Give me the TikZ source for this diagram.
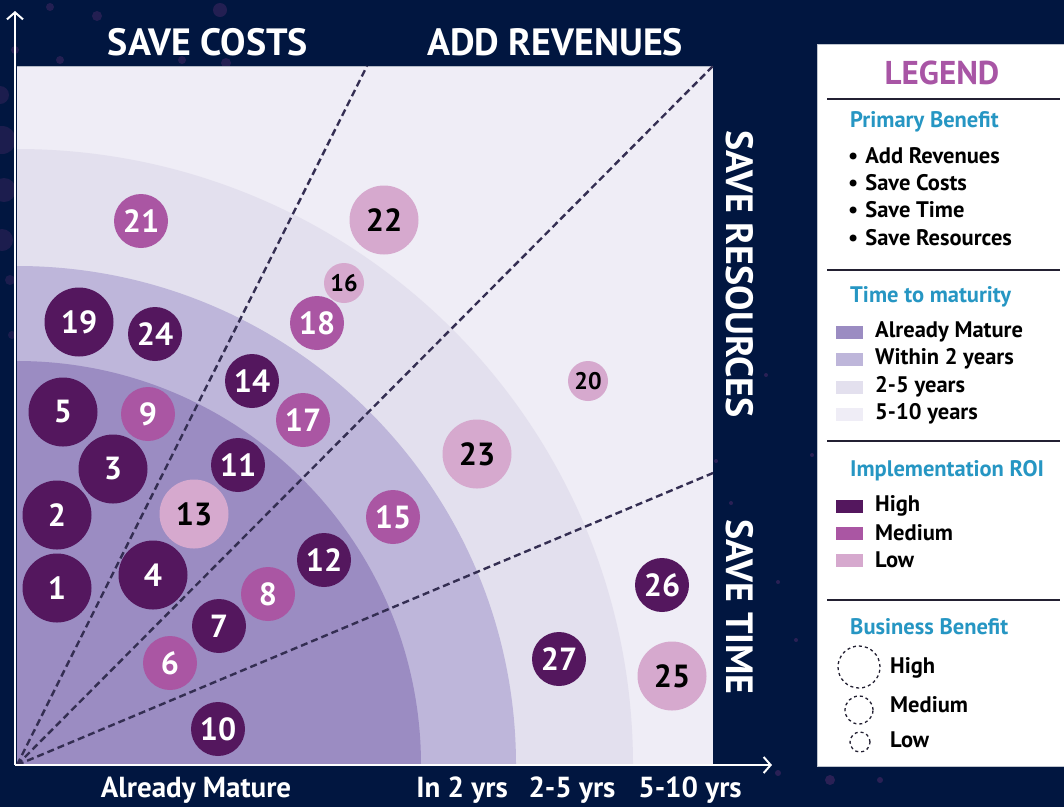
\documentclass[tikz,border=0pt]{standalone}
\usepackage{fontspec}
\setmainfont{PT Sans}
\usetikzlibrary{arrows.meta}

\definecolor{navy}{RGB}{1,22,64}
\definecolor{speck}{RGB}{70,40,100}
\definecolor{mature}{RGB}{155,140,194}
\definecolor{within2}{RGB}{190,182,218}
\definecolor{yrs25}{RGB}{227,224,238}
\definecolor{yrs510}{RGB}{239,237,246}
\definecolor{roiHigh}{RGB}{84,23,94}
\definecolor{roiMed}{RGB}{170,86,163}
\definecolor{roiLow}{RGB}{214,169,206}
\definecolor{legendPurple}{RGB}{168,85,165}
\definecolor{headBlue}{RGB}{38,150,195}
\definecolor{dashGrey}{RGB}{52,46,82}
\definecolor{ruleGrey}{RGB}{35,32,50}

\tikzset{
	bubble/.style={circle, inner sep=0pt, text=white, font=\bfseries\fontsize{32}{32}\selectfont},
	big/.style={minimum size=69pt},
	mid/.style={minimum size=54pt},
	tiny/.style={minimum size=40pt, font=\bfseries\fontsize{24}{24}\selectfont},
	hi/.style={bubble, fill=roiHigh},
	md/.style={bubble, fill=roiMed},
	lo/.style={bubble, fill=roiLow, text=black},
	sector/.style={dashGrey, line width=2.4pt, dash pattern=on 7pt off 4pt},
	axis/.style={white, line width=2pt, -{Straight Barb[length=7pt, width=16pt, line width=2pt]}},
	title/.style={white, inner sep=0pt, font=\bfseries\fontsize{38}{38}\selectfont},
	tick/.style={white, inner sep=0pt, font=\bfseries\fontsize{29}{29}\selectfont},
	head/.style={headBlue, anchor=west, inner sep=0pt, font=\bfseries\fontsize{22.5}{22.5}\selectfont},
	item/.style={black, anchor=west, inner sep=0pt, font=\bfseries\fontsize{22.5}{22.5}\selectfont},
	swatch/.style={minimum width=27pt, minimum height=13pt, inner sep=0pt},
	bencirc/.style={circle, draw=ruleGrey, dashed, line width=1.3pt, inner sep=0pt},
	rulebar/.style={ruleGrey, line width=2pt}
}

\begin{document}
\begin{tikzpicture}[x=1pt, y=1pt]
		%%%%% BACKGROUND %%%%%
		\fill[navy] (0,0) rectangle (1064,-807);
		\useasboundingbox (0,0) rectangle (1064,-807);
		
		\fill[speck, opacity=0.5] (50,-7) circle (4);
		\fill[speck, opacity=0.5] (97,-16) circle (5);
		\fill[speck, opacity=0.5] (220,-10) circle (7);
		\fill[speck, opacity=0.5] (15,-50) circle (4);
		\fill[speck, opacity=0.5] (60,-60) circle (4);
		\fill[speck, opacity=0.5] (182,-60) circle (4);
		\fill[speck, opacity=0.5] (226,-63) circle (5);
		\fill[speck, opacity=0.4] (0,-95) circle (9);
		\fill[speck, opacity=0.4] (2,-140) circle (14);
		\fill[speck, opacity=0.4] (4,-190) circle (12);
		\fill[speck, opacity=0.4] (2,-240) circle (11);
		\fill[speck, opacity=0.4] (10,-280) circle (5);
		\fill[speck, opacity=0.4] (12,-335) circle (4);
		\fill[speck, opacity=0.6] (716,-461) circle (2);
		\fill[speck, opacity=0.6] (731,-503) circle (2);
		\fill[speck, opacity=0.6] (766,-375) circle (2);
		\fill[speck, opacity=0.6] (778,-582) circle (2);
		\fill[speck, opacity=0.6] (812,-455) circle (2);
		\fill[speck, opacity=0.6] (796,-640) circle (2);
		\fill[speck, opacity=0.6] (830,-780) circle (5);
		\fill[speck, opacity=0.6] (880,-780) circle (3);
		\fill[speck, opacity=0.6] (778,-773) circle (3);
		
		%%%%% QUADRANT %%%%%
		\coordinate (O) at (17,-765);
		\fill[yrs510] (17,-66) rectangle (713,-765);
		\begin{scope}
			\clip (17,-66) rectangle (713,-765);
			\fill[yrs25] (O) circle (616);
			\fill[within2] (O) circle (499);
			\fill[mature] (O) circle (404);
		\end{scope}
		\draw[white!70!navy, line width=0.8pt] (17,-66) -- (713,-66);
		
		\coordinate (d1) at (367,-66);
		\coordinate (d2) at (713,-66);
		\coordinate (d3) at (713,-473);
		\draw[sector] (O) -- (d1);
		\draw[sector] (O) -- (d2);
		\draw[sector] (O) -- (d3);
		
		\coordinate (yo) at (15,-765);
		\coordinate (ytop) at (15,-11);
		\coordinate (xend) at (772,-765);
		\draw[axis] (yo) -- (ytop);
		\draw[axis] (yo) -- (xend);
		
		%%%%% LABELS %%%%%
		\node[title] (costs) at (208,-42) {SAVE COSTS};
		\node[title] (revenues) at (555,-42) {ADD REVENUES};
		\node[title, rotate=-90] (resources) at (740,-274) {SAVE RESOURCES};
		\node[title, rotate=-90] (savetime) at (740,-607) {SAVE TIME};
		
		\node[tick] (tmature) at (196,-790) {Already Mature};
		\node[tick] (tin2) at (462,-790) {In 2 yrs};
		\node[tick] (t25) at (572,-790) {2-5 yrs};
		\node[tick] (t510) at (690,-790) {5-10 yrs};
		
		%%%%% BUBBLES %%%%%
		\node[hi, big] (b1) at (57,-588) {1};
		\node[hi, big] (b2) at (57,-515) {2};
		\node[hi, big] (b3) at (113,-469) {3};
		\node[hi, big] (b4) at (153,-575) {4};
		\node[hi, big] (b5) at (63,-412) {5};
		\node[md, mid] (b6) at (170,-663) {6};
		\node[hi, mid] (b7) at (219,-626) {7};
		\node[md, mid] (b8) at (268,-594) {8};
		\node[md, mid] (b9) at (148,-414) {9};
		\node[hi, mid] (b10) at (218,-729) {10};
		\node[hi, mid] (b11) at (238,-465) {11};
		\node[hi, mid] (b12) at (324,-560) {12};
		\node[lo, big] (b13) at (194,-514) {13};
		\node[hi, mid] (b14) at (252,-381) {14};
		\node[md, mid] (b15) at (393,-517) {15};
		\node[lo, tiny] (b16) at (344,-283) {16};
		\node[md, mid] (b17) at (303,-420) {17};
		\node[md, mid] (b18) at (317,-323) {18};
		\node[hi, big] (b19) at (79,-322) {19};
		\node[lo, tiny] (b20) at (588,-381) {20};
		\node[md, mid] (b21) at (141,-221) {21};
		\node[lo, big] (b22) at (384,-220) {22};
		\node[lo, big] (b23) at (477,-454) {23};
		\node[hi, mid] (b24) at (155,-334) {24};
		\node[lo, big] (b25) at (672,-676) {25};
		\node[hi, mid] (b26) at (662,-585) {26};
		\node[hi, mid] (b27) at (559,-659) {27};
		
		%%%%% LEGEND %%%%%
		\draw[fill=white, draw=white!75!navy, line width=0.8pt] (817,-44) rectangle (1068,-766);
		\node[legendPurple, font=\bfseries\fontsize{33}{33}\selectfont] (legend) at (942,-73) {LEGEND};
		
		\draw[rulebar] (827,-99) -- (1060,-99);
		\node[head] (primary) at (850,-122) {Primary Benefit};
		\node[item] (iaddrev) at (848,-156) {\textbullet\hspace{7pt}Add Revenues};
		\node[item] (icosts) at (848,-183) {\textbullet\hspace{7pt}Save Costs};
		\node[item] (itime) at (848,-210) {\textbullet\hspace{7pt}Save Time};
		\node[item] (iresources) at (848,-238) {\textbullet\hspace{7pt}Save Resources};
		
		\draw[rulebar] (827,-270) -- (1060,-270);
		\node[head] (maturity) at (850,-297) {Time to maturity};
		\node[swatch, fill=mature] (smature) at (849.5,-332) {};
		\node[swatch, fill=within2] (swithin) at (849.5,-359) {};
		\node[swatch, fill=yrs25] (s25) at (849.5,-387) {};
		\node[swatch, fill=yrs510] (s510) at (849.5,-414) {};
		\node[item] (lmature) at (875,-332) {Already Mature};
		\node[item] (lwithin) at (875,-359) {Within 2 years};
		\node[item] (l25) at (875,-387) {2-5 years};
		\node[item] (l510) at (875,-414) {5-10 years};
		
		\draw[rulebar] (827,-441) -- (1060,-441);
		\node[head] (roi) at (850,-471) {Implementation ROI};
		\node[swatch, fill=roiHigh] (shigh) at (849.5,-506) {};
		\node[swatch, fill=roiMed] (smed) at (849.5,-533) {};
		\node[swatch, fill=roiLow] (slow) at (849.5,-560) {};
		\node[item] (lhigh) at (875,-506) {High};
		\node[item] (lmed) at (875,-533) {Medium};
		\node[item] (llow) at (875,-560) {Low};
		
		\draw[rulebar] (827,-600) -- (1060,-600);
		\node[head] (benefit) at (850,-627) {Business Benefit};
		\node[bencirc, minimum size=42pt] (chigh) at (859,-667) {};
		\node[bencirc, minimum size=28pt] (cmed) at (859,-710) {};
		\node[bencirc, minimum size=20pt] (clow) at (860,-742) {};
		\node[item] (bhigh) at (890,-668) {High};
		\node[item] (bmed) at (890,-705) {Medium};
		\node[item] (blow) at (890,-740) {Low};
		
		%%%%% END %%%%%
	\end{tikzpicture}
\end{document}
